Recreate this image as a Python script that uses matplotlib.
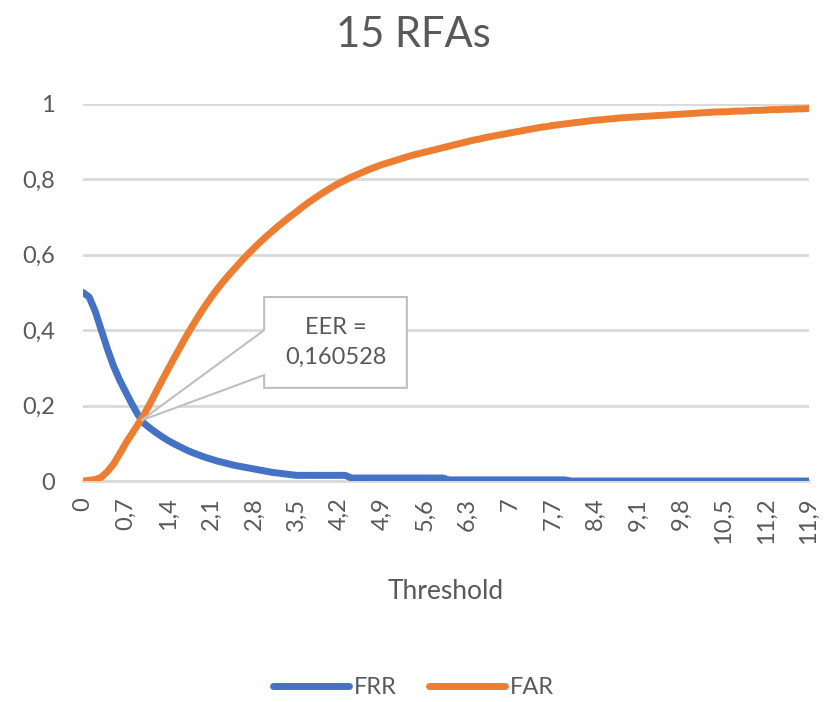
import numpy as np
import matplotlib.pyplot as plt
from matplotlib.patches import Polygon

plt.rcParams['font.family'] = ['Lato', 'DejaVu Sans']

# 阈值 0 ~ 11.9，步长 0.1
thresholds = np.round(np.arange(120) * 0.1, 1)

# 错误接受率 FAR
far = [
    0.000, 0.002, 0.004, 0.010, 0.025, 0.045, 0.072, 0.100, 0.125, 0.150,
    0.176, 0.206, 0.237, 0.268, 0.298, 0.328, 0.357, 0.386, 0.413, 0.439,
    0.464, 0.487, 0.509, 0.529, 0.548, 0.566, 0.584, 0.601, 0.617, 0.633,
    0.648, 0.662, 0.676, 0.689, 0.702, 0.714, 0.727, 0.739, 0.750, 0.761,
    0.771, 0.781, 0.790, 0.798, 0.806, 0.813, 0.820, 0.827, 0.833, 0.839,
    0.844, 0.849, 0.854, 0.859, 0.864, 0.868, 0.872, 0.876, 0.880, 0.884,
    0.888, 0.892, 0.896, 0.900, 0.904, 0.907, 0.911, 0.914, 0.917, 0.920,
    0.923, 0.926, 0.929, 0.932, 0.935, 0.938, 0.940, 0.943, 0.945, 0.947,
    0.949, 0.951, 0.953, 0.955, 0.957, 0.958, 0.960, 0.961, 0.963, 0.964,
    0.965, 0.966, 0.967, 0.968, 0.969, 0.970, 0.971, 0.972, 0.973, 0.974,
    0.975, 0.976, 0.977, 0.978, 0.979, 0.979, 0.980, 0.981, 0.981, 0.982,
    0.983, 0.983, 0.984, 0.985, 0.985, 0.986, 0.986, 0.987, 0.987, 0.988,
]

# 错误拒绝率 FRR
frr = [
    0.500, 0.488, 0.450, 0.400, 0.350, 0.305, 0.268, 0.236, 0.205, 0.176,
    0.153, 0.140, 0.128, 0.117, 0.107, 0.098, 0.090, 0.082, 0.075, 0.069,
    0.063, 0.058, 0.053, 0.049, 0.045, 0.041, 0.038, 0.035, 0.032, 0.029,
    0.026, 0.023, 0.021, 0.019, 0.017, 0.015, 0.015, 0.015, 0.015, 0.015,
    0.015, 0.015, 0.015, 0.015, 0.008, 0.008, 0.008, 0.008, 0.008, 0.008,
    0.008, 0.008, 0.008, 0.008, 0.008, 0.008, 0.008, 0.008, 0.008, 0.008,
    0.003, 0.003, 0.003, 0.003, 0.003, 0.003, 0.003, 0.003, 0.003, 0.003,
    0.003, 0.003, 0.003, 0.003, 0.003, 0.003, 0.003, 0.003, 0.003, 0.003,
    0.000, 0.000, 0.000, 0.000, 0.000, 0.000, 0.000, 0.000, 0.000, 0.000,
    0.000, 0.000, 0.000, 0.000, 0.000, 0.000, 0.000, 0.000, 0.000, 0.000,
    0.000, 0.000, 0.000, 0.000, 0.000, 0.000, 0.000, 0.000, 0.000, 0.000,
    0.000, 0.000, 0.000, 0.000, 0.000, 0.000, 0.000, 0.000, 0.000, 0.000,
]

eer = 0.160528
tick_labels = [f'{t:g}'.replace('.', ',') for t in thresholds[::7]]

text_color = '#595959'
grid_color = '#d9d9d9'

fig = plt.figure(figsize=(8.27, 7.02), dpi=100)
ax = fig.add_axes([0.1004, 0.3148, 0.8775, 0.5371])

ax.plot(thresholds, frr, color='#4472C4', lw=5, label='FRR', solid_capstyle='round', zorder=3)
ax.plot(thresholds, far, color='#ED7D31', lw=5, label='FAR', solid_capstyle='round', zorder=3)

# FAR 与 FRR 的交点位置 (EER)
diff = np.array(far) - np.array(frr)
i = np.where(diff > 0)[0][0]
x_eer = thresholds[i - 1] + (thresholds[i] - thresholds[i - 1]) * (-diff[i - 1]) / (diff[i] - diff[i - 1])

# 标注框 + 指向交点的尖角
bx0, bx1, by0, by1 = 2.97, 5.31, 0.247, 0.488
callout = Polygon([(bx0, by1), (bx1, by1), (bx1, by0), (bx0, by0),
                   (bx0, 0.281), (x_eer, eer), (bx0, 0.400)],
                  closed=True, facecolor='white', edgecolor='#bfbfbf', lw=1.5, zorder=4)
ax.add_patch(callout)
ax.text((bx0 + bx1) / 2, (by0 + by1) / 2, 'EER =\n0,160528', ha='center', va='center',
        fontsize=17, color=text_color, linespacing=1.5, zorder=5)

ax.set_xlim(0, 11.9)
ax.set_ylim(0, 1)
ax.set_xticks(thresholds[::7])
ax.set_xticklabels(tick_labels, rotation=90, fontsize=17, color=text_color)
ax.set_yticks([0, 0.2, 0.4, 0.6, 0.8, 1])
ax.set_yticklabels(['0', '0,2', '0,4', '0,6', '0,8', '1'], fontsize=17, color=text_color)
ax.tick_params(length=0, pad=12)
ax.tick_params(axis='y', pad=20)
ax.yaxis.grid(True, color=grid_color, lw=2)
ax.set_axisbelow(True)
for s in ['top', 'right', 'left']:
    ax.spines[s].set_visible(False)
ax.spines['bottom'].set_color(grid_color)
ax.spines['bottom'].set_linewidth(2)

ax.set_xlabel('Threshold', fontsize=19, color=text_color, labelpad=25)
fig.suptitle('15 RFAs', fontsize=30, color=text_color, y=0.95, va='center')

fig.legend(loc='center', ncol=2, frameon=False, fontsize=17,
           handlelength=3.2, handletextpad=0.2, columnspacing=1.4,
           bbox_to_anchor=(0.5, 0.02), labelcolor=text_color)

plt.savefig('out.png')
